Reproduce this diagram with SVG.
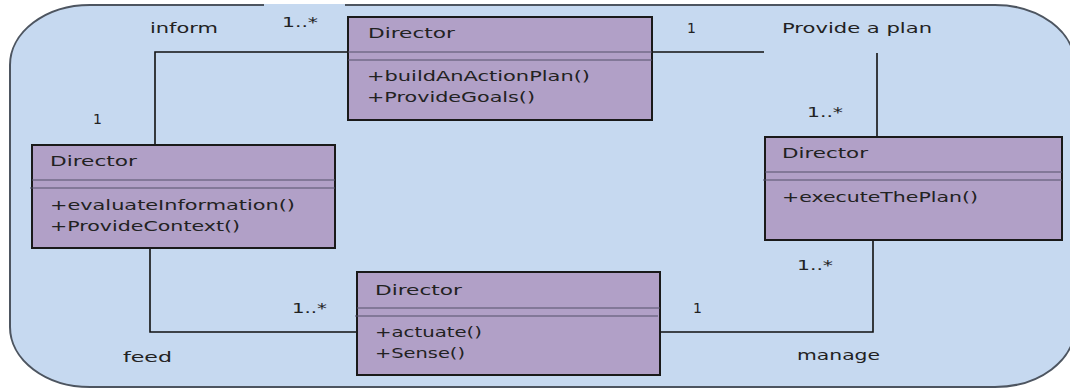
<svg xmlns="http://www.w3.org/2000/svg" width="1070" height="389" viewBox="0 0 1070 389">
<style>
.bg{fill:#c6d9f0;stroke:#4d5560;stroke-width:2}
.box{fill:#b1a0c7;stroke:#1a1a1a;stroke-width:2}
.div{stroke:#55506a;stroke-width:1.2}
.con{fill:none;stroke:#111;stroke-width:1.6}
text{font-family:"DejaVu Sans","Liberation Sans",sans-serif;font-size:14px;fill:#222}
</style>
<rect x="0" y="0" width="1070" height="389" fill="#ffffff"/>
<rect class="bg" x="10" y="5" width="1065" height="382" rx="80" ry="60"/>
<rect x="264" y="4" width="81" height="3" fill="#c6d9f0"/>
<g id="connectors">
<polyline class="con" points="155,145 155,52 348,52"/>
<line class="con" x1="652" y1="52" x2="764" y2="52"/>
<line class="con" x1="877" y1="53" x2="877" y2="137"/>
<polyline class="con" points="150,248 150,332 357,332"/>
<polyline class="con" points="873,240 873,332 660,332"/>
</g>
<g id="labels">
<text x="150" y="33" textLength="68" lengthAdjust="spacingAndGlyphs">inform</text>
<text x="282" y="27" textLength="36" lengthAdjust="spacingAndGlyphs">1..*</text>
<text x="93" y="124">1</text>
<text x="687" y="33">1</text>
<text x="782" y="33" textLength="150" lengthAdjust="spacingAndGlyphs">Provide a plan</text>
<text x="807" y="117" textLength="36" lengthAdjust="spacingAndGlyphs">1..*</text>
<text x="797" y="270" textLength="36" lengthAdjust="spacingAndGlyphs">1..*</text>
<text x="292" y="313" textLength="35" lengthAdjust="spacingAndGlyphs">1..*</text>
<text x="693" y="313">1</text>
<text x="123" y="362" textLength="49" lengthAdjust="spacingAndGlyphs">feed</text>
<text x="797" y="360" textLength="83" lengthAdjust="spacingAndGlyphs">manage</text>
</g>
<g id="director-plan">
<rect class="box" x="348" y="17" width="304" height="103"/>
<line class="div" x1="348" y1="52" x2="652" y2="52"/>
<line class="div" x1="348" y1="60" x2="652" y2="60"/>
<text x="368" y="38" textLength="87" lengthAdjust="spacingAndGlyphs">Director</text>
<text x="367" y="81" textLength="223" lengthAdjust="spacingAndGlyphs">+buildAnActionPlan()</text>
<text x="367" y="102" textLength="168" lengthAdjust="spacingAndGlyphs">+ProvideGoals()</text>
</g>
<g id="director-evaluate">
<rect class="box" x="32" y="145" width="303" height="103"/>
<line class="div" x1="32" y1="180" x2="335" y2="180"/>
<line class="div" x1="30" y1="188" x2="335" y2="188"/>
<text x="50" y="166" textLength="87" lengthAdjust="spacingAndGlyphs">Director</text>
<text x="50" y="210" textLength="245" lengthAdjust="spacingAndGlyphs">+evaluateInformation()</text>
<text x="50" y="231" textLength="190" lengthAdjust="spacingAndGlyphs">+ProvideContext()</text>
</g>
<g id="director-execute">
<rect class="box" x="765" y="137" width="297" height="103"/>
<line class="div" x1="765" y1="172" x2="1062" y2="172"/>
<line class="div" x1="763" y1="180" x2="1062" y2="180"/>
<text x="782" y="158" textLength="86" lengthAdjust="spacingAndGlyphs">Director</text>
<text x="782" y="202" textLength="196" lengthAdjust="spacingAndGlyphs">+executeThePlan()</text>
</g>
<g id="director-actuate">
<rect class="box" x="357" y="272" width="303" height="103"/>
<line class="div" x1="357" y1="308" x2="660" y2="308"/>
<line class="div" x1="355" y1="316" x2="658" y2="316"/>
<text x="375" y="295" textLength="87" lengthAdjust="spacingAndGlyphs">Director</text>
<text x="375" y="337" textLength="107" lengthAdjust="spacingAndGlyphs">+actuate()</text>
<text x="375" y="358" textLength="90" lengthAdjust="spacingAndGlyphs">+Sense()</text>
</g>
</svg>
